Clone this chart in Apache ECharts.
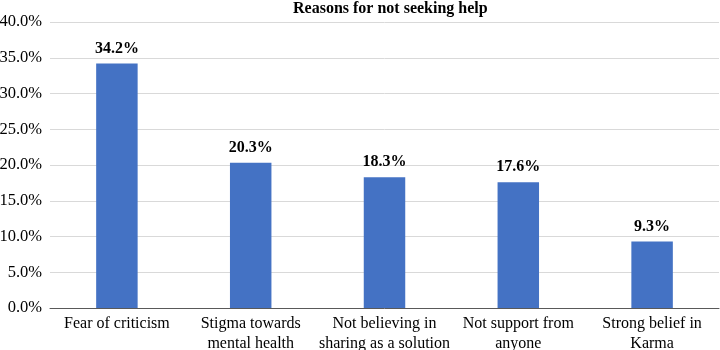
<!DOCTYPE html>
<html>
<head>
<meta charset="utf-8">
<script src="https://cdn.jsdelivr.net/npm/echarts@6/dist/echarts.min.js"></script>
<style>
html, body { margin: 0; padding: 0; background: #fff; }
#box1 { width: 720px; height: 350px; }
</style>
</head>
<body>
<div id="box1"></div>
<script>
var categories = ['Fear of criticism', 'Stigma towards\nmental health', 'Not believing in\nsharing as a solution', 'Not support from\nanyone', 'Strong belief in\nKarma'];
var values = [34.2, 20.3, 18.3, 17.6, 9.3];
var yTicks = [0, 5, 10, 15, 20, 25, 30, 35, 40];

var dom = document.getElementById("box1");
var myChart = echarts.init(dom);
var serif = '"Liberation Serif", "Times New Roman", serif';

var option = {
    animation: false,
    title: {
        text: 'Reasons for not seeking help',
        left: 288,
        top: -4,
        textStyle: { fontFamily: serif, fontWeight: 'bold', fontSize: 16, color: '#000' }
    },
    grid: { left: 50, right: 1, top: 22, bottom: 42, containLabel: false, outerBoundsMode: 'none' },
    xAxis: {
        type: 'category',
        data: categories,
        axisTick: { show: false },
        axisLine: { lineStyle: { color: '#595959', width: 1 } },
        axisLabel: {
            interval: 0,
            margin: 6,
            fontFamily: serif,
            fontSize: 16,
            lineHeight: 20,
            color: '#000'
        }
    },
    yAxis: {
        type: 'value',
        min: yTicks[0],
        max: yTicks[yTicks.length - 1],
        interval: 5,
        axisLine: { show: false },
        axisTick: { show: false },
        splitLine: { lineStyle: { color: '#d9d9d9', width: 1 } },
        axisLabel: {
            margin: 8,
            fontFamily: serif,
            fontSize: 16.5,
            color: '#000',
            formatter: function (v) { return v.toFixed(1) + '%'; }
        }
    },
    series: [
        {
            type: 'bar',
            data: values,
            barWidth: '31%',
            itemStyle: { color: '#4472C4' },
            label: {
                show: true,
                position: 'top',
                distance: 7,
                fontFamily: serif,
                fontWeight: 'bold',
                fontSize: 16,
                color: '#000',
                formatter: function (p) { return p.value.toFixed(1) + '%'; }
            }
        }
    ]
};

myChart.setOption(option, true);
</script>
</body>
</html>
